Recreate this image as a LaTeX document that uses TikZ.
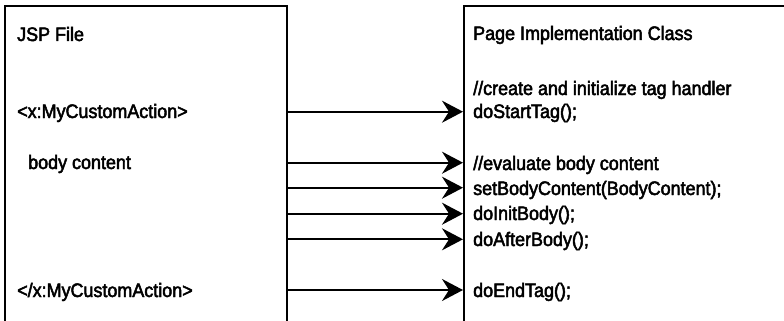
\documentclass[tikz,border=0pt]{standalone}
\usepackage{fontspec}
\setmainfont[FakeStretch=0.92,FakeBold=2.5]{Liberation Sans}
\usetikzlibrary{arrows.meta}
\begin{document}
\begin{tikzpicture}[x=1pt,y=-1pt,
  boxline/.style={line width=1.4pt},
  arr/.style={line width=2pt,-{Stealth[length=21pt,width=22pt,inset=7pt]}},
  txt/.style={anchor=base west,inner sep=0pt,font=\fontsize{19.5}{23}\selectfont}]
\useasboundingbox (0,0) rectangle (784,321);
% boxes
\draw[boxline] (5,321) -- (5,6) -- (287,6) -- (287,321);
\draw[boxline] (464,321) -- (464,6) -- (784,6);
% left texts
\node[txt] (jsp) at (17,41) {JSP File};
\node[txt] (open) at (17,118) {<x:MyCustomAction>};
\node[txt] (body) at (28,169) {body content};
\node[txt] (close) at (17,297) {</x:MyCustomAction>};
% right texts
\node[txt] (pic) at (473,40) {Page Implementation Class};
\node[txt] (c1) at (473,95) {//create and initialize tag handler};
\node[txt] (r1) at (473,118) {doStartTag();};
\node[txt] (c2) at (473,170) {//evaluate body content};
\node[txt] (r2) at (473,195) {setBodyContent(BodyContent);};
\node[txt] (r3) at (473,220) {doInitBody();};
\node[txt] (r4) at (473,246) {doAfterBody();};
\node[txt] (r5) at (473,297) {doEndTag();};
% arrow end points
\coordinate (a1) at (287,111.7); \coordinate (b1) at (463,111.7);
\coordinate (a2) at (287,162.7); \coordinate (b2) at (463,162.7);
\coordinate (a3) at (287,187.7); \coordinate (b3) at (463,187.7);
\coordinate (a4) at (287,213.7); \coordinate (b4) at (463,213.7);
\coordinate (a5) at (287,239.3); \coordinate (b5) at (463,239.3);
\coordinate (a6) at (287,290);   \coordinate (b6) at (463,290);
\foreach \i in {1,...,6} \draw[arr] (a\i) -- (b\i);
\end{tikzpicture}
\end{document}
